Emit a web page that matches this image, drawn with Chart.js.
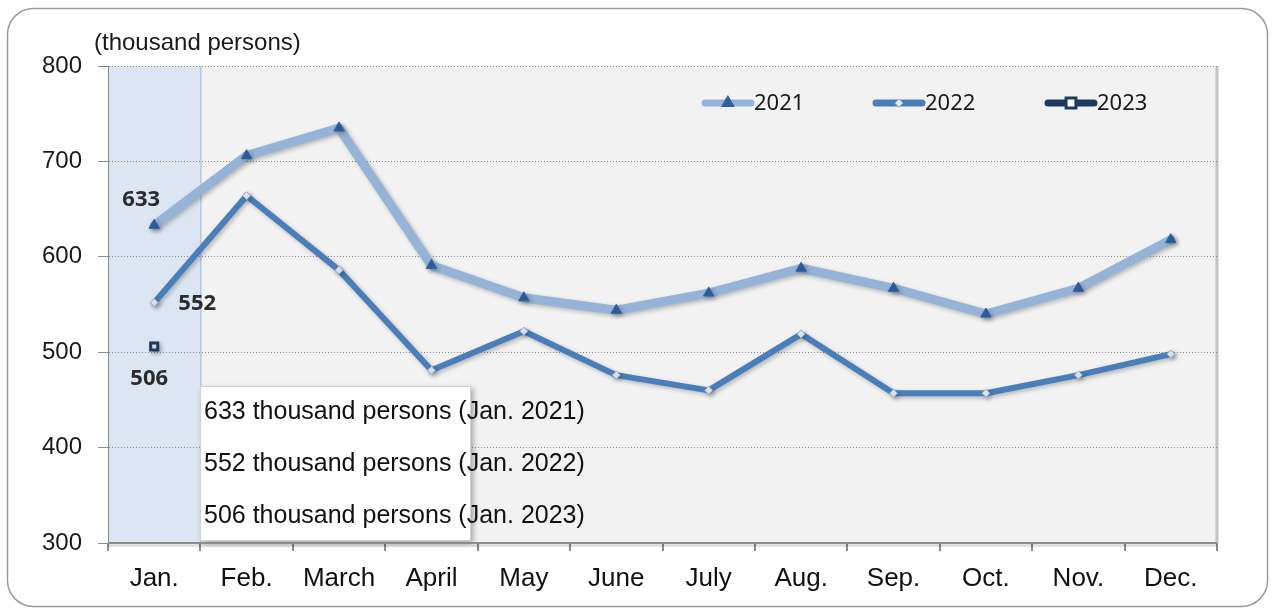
<!DOCTYPE html>
<html lang="en">
  <head>
    <meta charset="UTF-8" />
    <style>
      body {
        margin: 0;
        background-color: rgb(255, 255, 255);
      }
      #wrap {
        width: 1275px;
        height: 616px;
      }
    </style>
    <script src="https://cdn.jsdelivr.net/npm/chart.js"></script>
    <title>Monthly persons</title>
  </head>
  <body>
    <div id="wrap"><canvas id="chart" width="1275" height="616"></canvas></div>

    <script>
      const months = ["Jan.", "Feb.", "March", "April", "May", "June", "July", "Aug.", "Sep.", "Oct.", "Nov.", "Dec."];
      const values2021 = [633, 706, 735, 591, 557, 544, 562, 588, 567, 540, 567, 618];
      const values2022 = [552, 664, 586, 481, 522, 476, 460, 519, 457, 457, 476, 498];
      const values2023 = [506, null, null, null, null, null, null, null, null, null, null, null];
      const yTicks = [300, 400, 500, 600, 700, 800];
      const unitLabel = "(thousand persons)";
      const noteLines = [
        "633 thousand persons (Jan. 2021)",
        "552 thousand persons (Jan. 2022)",
        "506 thousand persons (Jan. 2023)",
      ];

      const sansFont = "'Liberation Sans', Arial, sans-serif";
      const legendFont = "'Noto Sans', 'Open Sans', sans-serif";

      // background: rounded frame, plot fill, Jan. band
      const backdrop = {
        id: "backdrop",
        beforeDraw(chart) {
          const ctx = chart.ctx;
          const a = chart.chartArea;
          ctx.save();
          ctx.fillStyle = "#fff";
          ctx.fillRect(0, 0, chart.width, chart.height);
          ctx.beginPath();
          ctx.roundRect(7.5, 8.5, 1260, 598, 26);
          ctx.strokeStyle = "#9a9a9a";
          ctx.lineWidth = 1.5;
          ctx.stroke();

          ctx.fillStyle = "#f2f2f2";
          ctx.fillRect(a.left, a.top, a.right - a.left, a.bottom - a.top);

          const x = chart.scales.x;
          const bandR = (x.getPixelForValue(0) + x.getPixelForValue(1)) / 2;
          ctx.fillStyle = "#dce6f2";
          ctx.fillRect(a.left, a.top, bandR - a.left, a.bottom - a.top);
          ctx.strokeStyle = "#95b3d7";
          ctx.lineWidth = 1;
          ctx.beginPath();
          ctx.moveTo(bandR + 0.5, a.top);
          ctx.lineTo(bandR + 0.5, a.bottom);
          ctx.stroke();

          // right edge shade
          ctx.strokeStyle = "#c4c4c4";
          ctx.lineWidth = 3;
          ctx.beginPath();
          ctx.moveTo(a.right, a.top);
          ctx.lineTo(a.right, a.bottom);
          ctx.stroke();
          ctx.restore();
        },
        beforeDatasetsDraw(chart) {
          // soft shadow under the lines
          chart.ctx.save();
          chart.ctx.shadowColor = "rgba(0,0,0,0.25)";
          chart.ctx.shadowBlur = 4;
          chart.ctx.shadowOffsetX = 2;
          chart.ctx.shadowOffsetY = 2;
        },
        afterDatasetsDraw(chart) {
          chart.ctx.restore();
        },
        afterDraw(chart) {
          const ctx = chart.ctx;
          const a = chart.chartArea;
          ctx.save();
          // bottom axis line with shadow
          ctx.strokeStyle = "rgba(0,0,0,0.12)";
          ctx.lineWidth = 4;
          ctx.beginPath();
          ctx.moveTo(a.left, a.bottom + 2);
          ctx.lineTo(a.right, a.bottom + 2);
          ctx.stroke();
          ctx.strokeStyle = "#8c8c8c";
          ctx.lineWidth = 2;
          ctx.beginPath();
          ctx.moveTo(a.left, a.bottom);
          ctx.lineTo(a.right, a.bottom);
          ctx.stroke();

          ctx.fillStyle = "#1a1a1a";
          ctx.font = "24px " + sansFont;
          ctx.textBaseline = "middle";
          ctx.textAlign = "left";
          ctx.fillText(unitLabel, 94, 43);
          ctx.restore();
        },
      };

      // value labels, legend and note box
      const extras = {
        id: "extras",
        afterDatasetsDraw(chart) {
          const ctx = chart.ctx;
          ctx.save();
          ctx.shadowColor = "transparent";

          // value labels on Jan.
          const offs = [
            [-13, -26],
            [43, 1],
            [-5, 32],
          ];
          ctx.fillStyle = "#2b2b2b";
          ctx.font = "bold 22px " + legendFont;
          ctx.textAlign = "center";
          ctx.textBaseline = "middle";
          chart.data.datasets.forEach((ds, i) => {
            const pt = chart.getDatasetMeta(i).data[0];
            ctx.fillText(String(ds.data[0]), pt.x + offs[i][0], pt.y + offs[i][1]);
          });

          // legend
          const lx = [705, 876, 1048];
          const ly = 103;
          const legendRadius = [7, 4, 7];
          ctx.font = "22px " + legendFont;
          ctx.textAlign = "left";
          chart.data.datasets.forEach((ds, i) => {
            ctx.strokeStyle = ds.borderColor;
            ctx.lineWidth = 7;
            ctx.lineCap = "round";
            ctx.beginPath();
            ctx.moveTo(lx[i], ly);
            ctx.lineTo(lx[i] + 46, ly);
            ctx.stroke();
            ctx.fillStyle = ds.pointBackgroundColor;
            ctx.strokeStyle = ds.pointBorderColor;
            ctx.lineWidth = ds.pointBorderWidth;
            Chart.helpers.drawPoint(
              ctx,
              {
                pointStyle: ds.pointStyle,
                radius: legendRadius[i],
                borderWidth: ds.pointBorderWidth,
                rotation: 0,
              },
              lx[i] + 23,
              ly
            );
            ctx.fillStyle = "#1a1a1a";
            ctx.fillText(ds.label, lx[i] + 49, ly + 1);
          });

          // note box
          ctx.shadowColor = "rgba(0,0,0,0.35)";
          ctx.shadowBlur = 6;
          ctx.shadowOffsetX = 3;
          ctx.shadowOffsetY = 3;
          ctx.fillStyle = "#fff";
          ctx.fillRect(200, 386, 270, 154);
          ctx.shadowColor = "transparent";
          ctx.strokeStyle = "#d0d0d0";
          ctx.lineWidth = 1;
          ctx.strokeRect(200.5, 386.5, 270, 154);
          ctx.fillStyle = "#111";
          ctx.font = "25px " + sansFont;
          noteLines.forEach((t, i) => {
            ctx.fillText(t, 204, 412 + i * 52);
          });
          ctx.restore();
        },
      };

      const ctx = document.getElementById("chart").getContext("2d");
      const myChart = new Chart(ctx, {
        type: "line",
        data: {
          labels: months,
          datasets: [
            {
              label: "2021",
              data: values2021,
              borderColor: "#95b3d7",
              borderWidth: 9,
              pointStyle: "triangle",
              pointRadius: 6,
              pointBackgroundColor: "#2f5f9e",
              pointBorderColor: "#2f5f9e",
              pointBorderWidth: 1,
            },
            {
              label: "2022",
              data: values2022,
              borderColor: "#4a7ebb",
              borderWidth: 6,
              pointStyle: "rectRot",
              pointRadius: 4,
              pointBackgroundColor: "#e3eaf5",
              pointBorderColor: "#8eaad4",
              pointBorderWidth: 1,
            },
            {
              label: "2023",
              data: values2023,
              borderColor: "#1f3a5f",
              borderWidth: 6,
              pointStyle: "rect",
              pointRadius: 5,
              pointBackgroundColor: "#ffffff",
              pointBorderColor: "#1f3a5f",
              pointBorderWidth: 3,
              showLine: false,
            },
          ],
        },
        options: {
          responsive: false,
          animation: false,
          devicePixelRatio: 1,
          layout: { padding: { top: 66, right: 58, left: 0, bottom: 0 } },
          elements: { line: { tension: 0, borderCapStyle: "round", borderJoinStyle: "round" } },
          plugins: {
            legend: { display: false },
            tooltip: { enabled: false },
          },
          scales: {
            x: {
              offset: true,
              grid: {
                offset: true,
                drawOnChartArea: false,
                drawTicks: true,
                tickLength: 8,
                color: "#8c8c8c",
                lineWidth: 2,
              },
              border: { display: false },
              ticks: {
                color: "#111",
                padding: 12,
                font: { family: sansFont, size: 26 },
              },
              afterFit(scale) {
                scale.height = 73;
              },
            },
            y: {
              min: 300,
              max: 800,
              afterBuildTicks(scale) {
                scale.ticks = yTicks.map((v) => ({ value: v }));
              },
              grid: {
                color: "#8a8a8a",
                lineWidth: 1,
                tickLength: 10,
                tickBorderDash: [],
              },
              // in v4 border.dash dashes the grid lines
              border: { color: "#8c8c8c", width: 1, dash: [1, 2] },
              ticks: {
                color: "#1a1a1a",
                padding: 16,
                font: { family: sansFont, size: 24 },
              },
              afterFit(scale) {
                scale.width = 108;
              },
            },
          },
        },
        plugins: [backdrop, extras],
      });
    </script>
  </body>
</html>
